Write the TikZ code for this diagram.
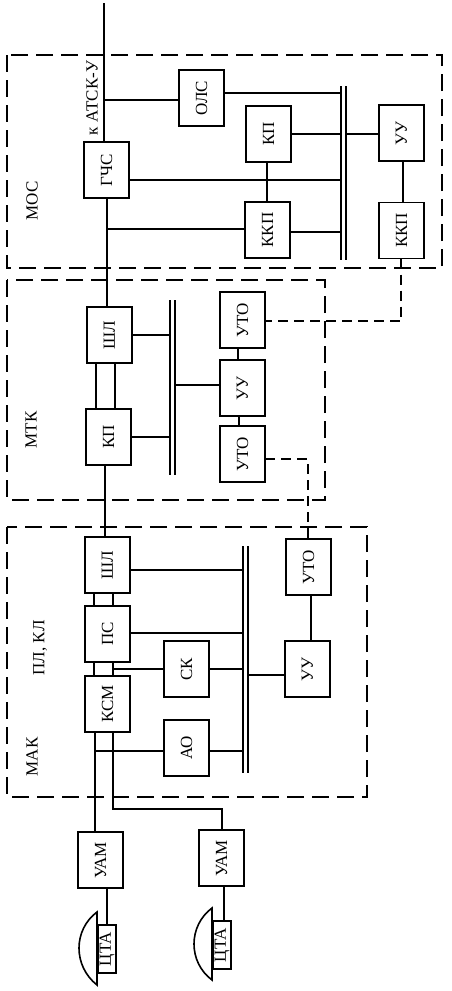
\documentclass[tikz,border=0pt]{standalone}
\usepackage{fontspec}
\setmainfont{Liberation Serif}
\usepackage{tikz}

\newcommand{\vtext}[1]{\rotatebox{90}{#1}}

\begin{document}
\begin{tikzpicture}[
  x=1pt,
  y=-1pt,
  line join=miter,
  every node/.style={font=\fontsize{17}{19}\selectfont,inner sep=0pt,outer sep=0pt},
  blockbox/.style={draw,line width=1.6pt,minimum width=45pt,minimum height=56pt},
  phonebox/.style={draw,line width=1.6pt,minimum width=18pt,minimum height=48pt},
  conn/.style={line width=1.6pt},
  framebox/.style={line width=1.6pt,dash pattern=on 17pt off 8pt},
  signal/.style={line width=1.5pt,dash pattern=on 10pt off 6pt}
]
  \useasboundingbox (0,0) rectangle (452,991);

  % Dashed frames
  \draw[framebox] (7,55) rectangle (442,268);
  \draw[framebox] (7,280) rectangle (325,500);
  \draw[framebox] (7,527) rectangle (367,797);

  % Captions
  \node[rotate=90] (moscap) at (32,201) {МОС};
  \node[rotate=90] (atskcap) at (92,98) {к АТСК-У};
  \node[rotate=90] (mtkcap) at (31,430) {МТК};
  \node[rotate=90] (plkl) at (40,648) {ПЛ, КЛ};
  \node[rotate=90] (makcap) at (32,757) {МАК};

  % Upper module
  \node[blockbox] (gchs) at (106.5,170) {\vtext{ГЧС}};
  \node[blockbox] (ols) at (201.5,98) {\vtext{ОЛС}};
  \node[blockbox] (moskp) at (268.5,134) {\vtext{КП}};
  \node[blockbox] (moskkpa) at (267.5,230) {\vtext{ККП}};
  \node[blockbox] (mosuu) at (401.5,133) {\vtext{УУ}};
  \node[blockbox] (moskkpb) at (401.5,230.5) {\vtext{ККП}};

  % Middle module
  \node[blockbox] (mtksl) at (109.5,335) {\vtext{ШЛ}};
  \node[blockbox] (mtkkp) at (108.5,437) {\vtext{КП}};
  \node[blockbox] (mtkutoa) at (242.5,320) {\vtext{УТО}};
  \node[blockbox] (mtkuu) at (242.5,388) {\vtext{УУ}};
  \node[blockbox] (mtkutob) at (242.5,454) {\vtext{УТО}};

  % Lower module
  \node[blockbox] (maksl) at (107.5,565) {\vtext{ШЛ}};
  \node[blockbox] (makps) at (107.5,634) {\vtext{ПС}};
  \node[blockbox] (makksm) at (107.5,704) {\vtext{КСМ}};
  \node[blockbox] (makuto) at (308.5,567) {\vtext{УТО}};
  \node[blockbox] (makuu) at (307.5,669) {\vtext{УУ}};
  \node[blockbox] (makck) at (186.5,669) {\vtext{СК}};
  \node[blockbox] (makao) at (186.5,748) {\vtext{АО}};

  % Subscriber sets
  \node[blockbox] (uama) at (100.5,860) {\vtext{УАМ}};
  \node[blockbox] (uamb) at (221.5,858) {\vtext{УАМ}};
  \node[phonebox] (ctaa) at (107,949) {\vtext{ЦТА}};
  \node[phonebox] (ctab) at (222,945) {\vtext{ЦТА}};

  % Double buses
  \coordinate (mosbus-la) at (341,86);
  \coordinate (mosbus-lb) at (341,260);
  \coordinate (mosbus-ra) at (346,86);
  \coordinate (mosbus-rb) at (346,260);
  \coordinate (mtkbus-la) at (170,300);
  \coordinate (mtkbus-lb) at (170,475);
  \coordinate (mtkbus-ra) at (175,300);
  \coordinate (mtkbus-rb) at (175,475);
  \coordinate (makbus-la) at (243,546);
  \coordinate (makbus-lb) at (243,773);
  \coordinate (makbus-ra) at (248,546);
  \coordinate (makbus-rb) at (248,773);

  \foreach \bus in {mosbus,mtkbus,makbus}{
    \draw[conn] (\bus-la) -- (\bus-lb);
    \draw[conn] (\bus-ra) -- (\bus-rb);
  }

  % Upper module links
  \coordinate (trunktop) at (104,3);
  \draw[conn] (trunktop) -- (trunktop |- gchs.north);
  \draw[conn] (104,100) -- (ols.west |- 0,100);
  \draw[conn] (ols.east |- 0,93) -- (mosbus-la |- 0,93);
  \draw[conn] (moskp.east |- 0,134) -- (mosbus-la |- 0,134);
  \draw[conn] (mosbus-ra |- 0,134) -- (mosuu.west |- 0,134);
  \draw[conn] (gchs.east |- 0,180) -- (mosbus-la |- 0,180);
  \draw[conn] (moskkpa.east |- 0,232) -- (mosbus-la |- 0,232);
  \draw[conn] (107,229) -- (moskkpa.west |- 0,229);
  \draw[conn] (267,162) -- (267,202);
  \draw[conn] (mosuu.south -| 403,0) -- (moskkpb.north -| 403,0);
  \draw[conn] (107,198) -- (107,307);

  % Middle module links
  \draw[conn] (mtksl.east |- 0,335) -- (mtkbus-la |- 0,335);
  \draw[conn] (mtkkp.east |- 0,437) -- (mtkbus-la |- 0,437);
  \draw[conn] (mtkbus-ra |- 0,385) -- (mtkuu.west |- 0,385);
  \draw[conn] (96,363) -- (96,409);
  \draw[conn] (115,363) -- (115,409);
  \draw[conn] (238,348) -- (238,360);
  \draw[conn] (239,416) -- (239,426);
  \draw[conn] (105,465) -- (105,537);

  % Lower module links
  \draw[conn] (maksl.east |- 0,570) -- (makbus-la |- 0,570);
  \draw[conn] (makps.east |- 0,633) -- (makbus-la |- 0,633);
  \draw[conn] (makck.east |- 0,669) -- (makbus-la |- 0,669);
  \draw[conn] (113,669) -- (makck.west |- 0,669);
  \draw[conn] (makao.east |- 0,751) -- (makbus-la |- 0,751);
  \draw[conn] (95,751) -- (makao.west |- 0,751);
  \draw[conn] (makbus-ra |- 0,675) -- (makuu.west |- 0,675);
  \draw[conn] (311,595) -- (311,641);
  \foreach \x in {94,113}{
    \draw[conn] (\x,593) -- (\x,606);
    \draw[conn] (\x,662) -- (\x,676);
  }

  % Lines down to the sets
  \draw[conn] (95,732) -- (95,832);
  \draw[conn] (113,732) -- (113,809) -- (222,809) -- (222,830);
  \draw[conn] (107,888) -- (107,925);
  \draw[conn] (224,886) -- (224,921);

  % Handsets
  \draw[conn] (97,912) .. controls (73,930) and (73,966) .. (97,985) -- cycle;
  \draw[conn] (212,908) .. controls (188,926) and (188,962) .. (212,980) -- cycle;

  % Signalling lines
  \draw[signal] (moskkpb.south -| 401,0) -- (401,321) -- (mtkutoa.east |- 0,321);
  \draw[signal] (mtkutob.east |- 0,459) -- (308,459) -- (makuto.north -| 308,0);
\end{tikzpicture}
\end{document}
